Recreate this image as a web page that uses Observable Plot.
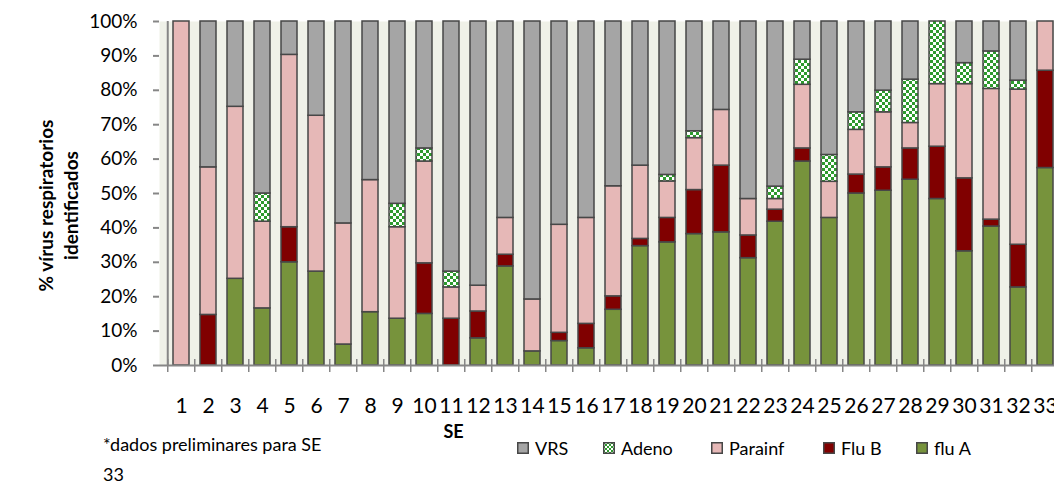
<!DOCTYPE html>
<html>
<head>
<meta charset="utf-8">
<script src="https://cdn.jsdelivr.net/npm/d3@7"></script>
<script src="https://cdn.jsdelivr.net/npm/@observablehq/plot@0.6"></script>
<style>
  html, body { margin: 0; padding: 0; background: #fff; overflow: hidden; }
  #wrap { position: relative; width: 1054px; height: 484px; overflow: hidden; font-family: Lato, "Open Sans", sans-serif; color: #000; }
  #chart { position: absolute; left: 0; top: 0; width: 1068px; }
  #chart svg { max-width: none !important; }
  .leg { position: absolute; top: 438px; display: flex; align-items: center; font-size: 18px; line-height: 20px; white-space: nowrap; }
  .leg svg { margin-right: 6px; }
  #caption { position: absolute; left: 103px; top: 429px; font-size: 18px; line-height: 30px; }
</style>
</head>
<body>
<div id="wrap">
  <div id="chart"></div>
  <div id="legend"></div>
  <div id="caption">*dados preliminares para SE<br>33</div>
</div>
<script>
// Categories (semanas epidemiológicas)
const weeks = ["1","2","3","4","5","6","7","8","9","10","11","12","13","14","15","16","17","18","19","20","21","22","23","24","25","26","27","28","29","30","31","32","33"];

// Series (percent of identified respiratory viruses), stack order bottom -> top
const fluA    = [0,0,25.2,16.6,30.0,27.3,6.1,15.5,13.6,15.0,0,7.9,28.8,4.1,7.1,5.0,16.2,34.7,35.8,38.2,38.7,31.2,41.8,59.3,42.9,50.0,50.8,54.0,48.4,33.2,40.4,22.7,57.4];
const fluB    = [0,14.7,0,0,10.2,0,0,0,0,14.7,13.6,7.8,3.4,0,2.4,7.1,3.9,2.1,7.1,12.8,19.4,6.6,3.5,3.8,0,5.5,6.8,9.1,15.2,21.2,2.0,12.4,28.3];
const parainf = [100,42.9,50.0,25.2,50.1,45.3,35.2,38.4,26.6,29.6,9.1,7.5,10.7,15.1,31.4,30.8,32.0,21.3,10.6,15.1,16.2,10.6,3.1,18.5,10.5,13.0,16.0,7.4,18.2,27.4,38.0,45.1,14.3];
const adeno   = [0,0,0,8.2,0,0,0,0,6.8,3.8,4.6,0,0,0,0,0,0,0,1.9,2.0,0,0,3.6,7.3,7.8,5.1,6.3,12.6,18.2,6.1,10.9,2.6,0];
const vrs     = [0,42.4,24.8,50.0,9.7,27.4,58.7,46.1,53.0,36.9,72.7,76.8,57.1,80.8,59.1,57.1,47.9,41.9,44.6,31.9,25.7,51.6,48.0,11.1,38.8,26.4,20.1,16.9,0,12.1,8.7,17.2,0];

const seriesNames  = ["flu A", "Flu B", "Parainf", "Adeno", "VRS"];
const seriesValues = [fluA, fluB, parainf, adeno, vrs];
const legendOrder  = ["VRS", "Adeno", "Parainf", "Flu B", "flu A"];
const legendColors = ["#a5a5a5", "url(#adeno)", "#e6b8b7", "#800000", "#77933c"];
const yTicks = [0,10,20,30,40,50,60,70,80,90,100];
const yTitle = "% vírus respiratorios\nidentificados";
const xTitle = "SE";

const data = [];
seriesNames.forEach((s, si) => {
  seriesValues[si].forEach((v, i) => {
    if (v > 0) data.push({week: weeks[i], series: s, value: v});
  });
});

const W = 1068, H = 455, ML = 159, MR = 1.5, MT = 21, MB = 90;
const step = (W - ML - MR) / weeks.length;

const chart = Plot.plot({
  width: W, height: H,
  marginLeft: ML, marginRight: MR, marginTop: MT, marginBottom: MB,
  style: {fontFamily: "Lato, 'Open Sans', sans-serif", background: "transparent", color: "#000", maxWidth: "none"},
  x: {domain: weeks, paddingInner: 0.42, paddingOuter: 0.21, label: null},
  y: {domain: [0, 100], label: null},
  color: {type: "ordinal", domain: legendOrder, range: legendColors},
  marks: [
    Plot.frame({fill: "#eff1e8", stroke: "none"}),
    Plot.barY(data, {x: "week", y: "value", fill: "series", stroke: "#474747", strokeWidth: 1.5}),
    Plot.ruleY([0], {stroke: "#868686", strokeWidth: 2}),
    Plot.ruleX([weeks[0]], {y1: 0, y2: 100, dx: -step / 2, stroke: "#868686", strokeWidth: 2}),
    Plot.axisY({ticks: yTicks, tickFormat: d => d + "%", tickSize: 6, tickPadding: 16, fontSize: 19, stroke: "#868686", strokeWidth: 2, label: null}),
    Plot.axisX({tickSize: 13, dy: -6, dx: -step / 2, tickFormat: () => "", stroke: "#868686", strokeWidth: 1.5, label: null}),
    Plot.axisX({tickSize: 0, tickPadding: 33, fontSize: 21, label: null}),
    Plot.text([xTitle], {text: d => d, frameAnchor: "bottom-left", textAnchor: "middle", lineAnchor: "middle", dx: 453 - ML, dy: 67, fontWeight: "bold", fontSize: 18}),
    Plot.text([yTitle], {text: d => d, frameAnchor: "left", textAnchor: "middle", lineAnchor: "middle", rotate: -90, dx: 57 - ML, dy: 12, fontWeight: "bold", fontSize: 19, lineHeight: 1.3})
  ]
});
chart.style.maxWidth = "none";

const ns = "http://www.w3.org/2000/svg";
const defs = document.createElementNS(ns, "defs");
defs.innerHTML = '<pattern id="adeno" patternUnits="userSpaceOnUse" width="6" height="6"><rect width="6" height="6" fill="#ffffff"/><rect width="3" height="3" fill="#2e9a2e"/><rect x="3" y="3" width="3" height="3" fill="#2e9a2e"/></pattern>';
chart.insertBefore(defs, chart.firstChild);
document.getElementById("chart").appendChild(chart);

// Legend
const legendLeft = [517, 603, 711, 823, 916];
const legend = document.getElementById("legend");
legendOrder.forEach((name, i) => {
  const item = document.createElement("div");
  item.className = "leg";
  item.style.left = legendLeft[i] + "px";
  const fill = legendColors[i] === "url(#adeno)" ? "url(#adenoLeg)" : legendColors[i];
  item.innerHTML = '<svg width="12" height="12"><defs><pattern id="adenoLeg" patternUnits="userSpaceOnUse" width="4" height="4"><rect width="4" height="4" fill="#fff"/><rect width="2" height="2" fill="#2e9a2e"/><rect x="2" y="2" width="2" height="2" fill="#2e9a2e"/></pattern></defs><rect x="0.75" y="0.75" width="10.5" height="10.5" fill="' + fill + '" stroke="#474747" stroke-width="1.5"/></svg><span>' + name + '</span>';
  legend.appendChild(item);
});
</script>
</body>
</html>
